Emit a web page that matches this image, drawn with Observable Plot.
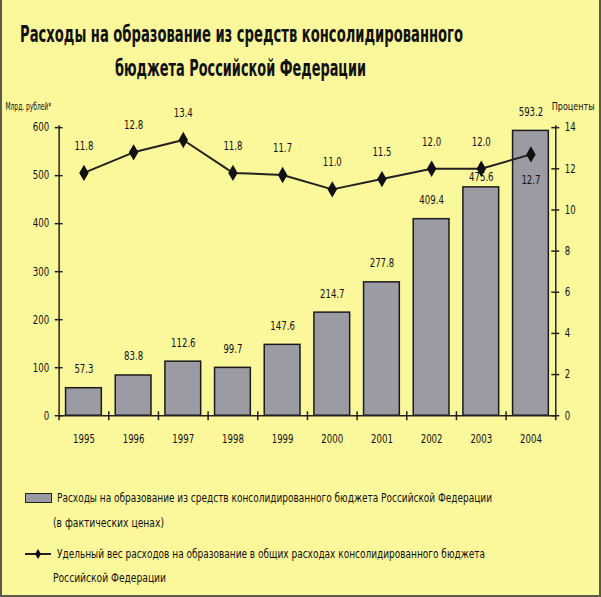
<!DOCTYPE html>
<html><head><meta charset="utf-8">
<script src="https://cdn.jsdelivr.net/npm/d3@7"></script>
<script src="https://cdn.jsdelivr.net/npm/@observablehq/plot@0.6"></script>
<style>
body{margin:0;background:#fff;}
#wrap{position:relative;width:601px;height:597px;box-sizing:border-box;background:#FBF79B;overflow:hidden;
 border-left:2px solid #5a5a4a;border-right:2px solid #5a5a4a;border-bottom:2px solid #5a5a4a;
 font-family:"DejaVu Sans Condensed","DejaVu Sans",sans-serif;color:#111;}
#chart{position:absolute;left:-2px;top:0;}
.t{position:absolute;white-space:nowrap;line-height:1;transform-origin:left center;}
.title{font-size:23px;font-weight:bold;}
.leg{font-size:12.5px;}
</style></head><body>
<div id="wrap">
 <div id="chart"></div>
 <div class="t title fit" data-w="443" style="left:18px;top:23px">Расходы на образование из средств консолидированного</div>
 <div class="t title fit" data-w="251" style="left:113px;top:57px">бюджета Российской Федерации</div>
 <div style="position:absolute;left:23px;top:493px;width:25px;height:8px;background:#9b9ba3;border:1.5px solid #222"></div>
 <div class="t leg fit" data-w="435" style="left:55px;top:492px">Расходы на образование из средств консолидированного бюджета Российской Федерации</div>
 <div class="t leg fit" data-w="111" style="left:51px;top:517px">(в фактических ценах)</div>
 <svg style="position:absolute;left:21px;top:546px" width="30" height="16"><line x1="2" y1="8" x2="28" y2="8" stroke="#222" stroke-width="2"/><path d="M15,3 L18,8 L15,13 L12,8Z" fill="#111"/></svg>
 <div class="t leg fit" data-w="428" style="left:55px;top:548px">Удельный вес расходов на образование в общих расходах консолидированного бюджета</div>
 <div class="t leg fit" data-w="113" style="left:51px;top:572px">Российской Федерации</div>
</div>
<script>
const years = ["1995","1996","1997","1998","1999","2000","2001","2002","2003","2004"];
const spending = [57.3, 83.8, 112.6, 99.7, 147.6, 214.7, 277.8, 409.4, 475.6, 593.2];
const share = [11.8, 12.8, 13.4, 11.8, 11.7, 11.0, 11.5, 12.0, 12.0, 12.7];
const leftTicks = [0, 100, 200, 300, 400, 500, 600];
const rightTicks = [0, 2, 4, 6, 8, 10, 12, 14];
const leftTitle = "Млрд. рублей*";
const rightTitle = "Проценты";

const yMax = 600, pMax = 14, K = yMax / pMax;
const data = years.map((y, i) => ({i, year: y, spending: spending[i], share: share[i]}));

const W = 603, H = 597, mL = 59, mR = 44, mT = 128, mB = 179;
const ux = 10 / (W - mL - mR), uy = yMax / (H - mT - mB);
const font = '"DejaVu Sans Condensed","DejaVu Sans",sans-serif';
const last = data.length - 1;

const chart = Plot.plot({
  width: W, height: H, marginLeft: mL, marginRight: mR, marginTop: mT, marginBottom: mB,
  style: {background: "transparent", fontFamily: font, fontSize: "12px", color: "#111"},
  x: {domain: [0, data.length], axis: null},
  y: {domain: [0, yMax], axis: null},
  marks: [
    Plot.rectY(data, {x1: d => d.i, x2: d => d.i + 1, y1: 0, y2: "spending", insetLeft: 7, insetRight: 7,
      fill: "#9b9ba3", stroke: "#1a1a1a", strokeWidth: 1.5}),
    Plot.ruleX([0, data.length], {y1: -5 * uy, y2: yMax + 2 * uy, stroke: "#222", strokeWidth: 1.5}),
    Plot.ruleY([0], {x1: 0, x2: data.length, stroke: "#222", strokeWidth: 1.5}),
    Plot.ruleY(leftTicks, {y: d => d, x1: -4 * ux, x2: 4 * ux, stroke: "#222", strokeWidth: 1.5}),
    Plot.ruleY(rightTicks, {y: d => d * K, x1: data.length - 4 * ux, x2: data.length + 4 * ux, stroke: "#222", strokeWidth: 1.5}),
    Plot.ruleX(data.slice(1), {x: d => d.i, y1: -5 * uy, y2: 4 * uy, stroke: "#222", strokeWidth: 1.5}),
    Plot.text(leftTicks, {x: 0, y: d => d, text: d => String(d), textAnchor: "end", dx: -10, fontSize: 12}),
    Plot.text(rightTicks, {x: data.length, y: d => d * K, text: d => String(d), textAnchor: "start", dx: 9, fontSize: 12}),
    Plot.text(data, {x: d => d.i + 0.5, y: 0, text: "year", dy: 24, fontSize: 12}),
    Plot.text(data, {filter: d => d.i !== 8, x: d => d.i + 0.5, y: "spending", text: d => d.spending.toFixed(1), dy: -19, fontSize: 12}),
    Plot.text(data, {filter: d => d.i === 8, x: d => d.i + 0.5, y: "spending", text: d => d.spending.toFixed(1), dy: -10, fontSize: 12}),
    Plot.line(data, {x: d => d.i + 0.5, y: d => d.share * K, stroke: "#222", strokeWidth: 2}),
    Plot.dot(data, {x: d => d.i + 0.5, y: d => d.share * K, symbol: "diamond", r: 5, fill: "#111", stroke: "none"}),
    Plot.text(data, {filter: d => d.i !== last, x: d => d.i + 0.5, y: d => d.share * K, text: d => d.share.toFixed(1), dy: -27, fontSize: 12}),
    Plot.text(data, {filter: d => d.i === last, x: d => d.i + 0.5, y: d => d.share * K, text: d => d.share.toFixed(1), dy: 26, fontSize: 12}),
    Plot.text([leftTitle], {frameAnchor: "top-left", text: d => d, textAnchor: "start", dx: -54, dy: -25, fontSize: 10}),
    Plot.text([rightTitle], {frameAnchor: "top-right", text: d => d, textAnchor: "start", dx: -4, dy: -25, fontSize: 10})
  ]
});
document.getElementById("chart").appendChild(chart);

// condense chart texts to match the narrow typeface of the original
chart.querySelectorAll("text").forEach(t => {
  const s = t.textContent;
  let len;
  if (s === leftTitle) len = 46;
  else if (s === rightTitle) len = 43;
  else len = t.getComputedTextLength() * 0.8;
  t.setAttribute("textLength", len);
  t.setAttribute("lengthAdjust", "spacingAndGlyphs");
});
document.querySelectorAll(".fit").forEach(el => {
  const w = el.getBoundingClientRect().width;
  el.style.transform = `scaleX(${(+el.dataset.w) / w})`;
});
</script>
</body></html>
